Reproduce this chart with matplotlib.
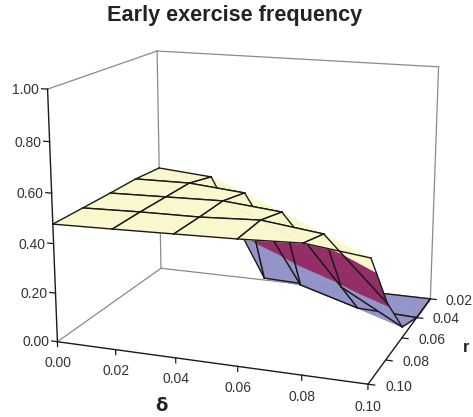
import numpy as np
import matplotlib
matplotlib.use('Agg')
import matplotlib.pyplot as plt
from mpl_toolkits.mplot3d import proj3d
from mpl_toolkits.mplot3d.art3d import Poly3DCollection

plt.rcParams['font.family'] = ['Liberation Sans', 'DejaVu Sans']

# early exercise frequency, rows are r, columns are delta
delta = [0.00, 0.02, 0.04, 0.06, 0.08, 0.10]
r = [0.02, 0.04, 0.06, 0.08, 0.10]
freq_r02 = [0.472, 0.452, 0.009, 0.00, 0.00, 0.00]
freq_r04 = [0.480, 0.483, 0.462, 0.084, 0.011, 0.00]
freq_r06 = [0.478, 0.484, 0.490, 0.467, 0.182, 0.046]
freq_r08 = [0.478, 0.485, 0.488, 0.500, 0.470, 0.227]
freq_r10 = [0.478, 0.483, 0.489, 0.495, 0.505, 0.476]
freq = np.array([freq_r02, freq_r04, freq_r06, freq_r08, freq_r10])

delta_ticks = [0.00, 0.02, 0.04, 0.06, 0.08, 0.10]
r_ticks = [0.02, 0.04, 0.06, 0.08, 0.10]
z_ticks = [0.00, 0.20, 0.40, 0.60, 0.80, 1.00]

band_edges = [(0.0, 0.2), (0.2, 0.4), (0.4, 0.6)]
band_colors = ['#9594c8', '#932f66', '#f9f8cc']

W, H = 473, 417
fig = plt.figure(figsize=(W/100, H/100), dpi=100)
ax = fig.add_axes([10.06/W, 1.62/H, 1, 1], projection='3d', computed_zorder=False)
ax.set_xlim(0, 0.10, view_margin=0)
ax.set_ylim(0.10, 0.02, view_margin=0)
ax.set_zlim(0, 1, view_margin=0)
ax.view_init(elev=14.88, azim=-69.98)
ax.set_proj_type('persp', focal_length=0.605)
ax.set_box_aspect((1.2551, 1.0047, 1), zoom=1.1024)
ax.set_axis_off()


def clip(poly, level, keep_above):
    # cut a polygon at a z level
    out = []
    for i in range(len(poly)):
        a, b = poly[i], poly[(i + 1) % len(poly)]
        a_in = a[2] >= level if keep_above else a[2] <= level
        b_in = b[2] >= level if keep_above else b[2] <= level
        if a_in:
            out.append(a)
        if a_in != b_in:
            t = (level - a[2]) / (b[2] - a[2])
            out.append(tuple(a[k] + t*(b[k] - a[k]) for k in range(3)))
    return out


def label(x, y, z, s, ha):
    # tick label at a 3d spot, as plain 2d text
    u, v, _ = proj3d.proj_transform(x, y, z, ax.get_proj())
    ax.text2D(u, v, s, transform=ax.transData, ha=ha, va='center', fontsize=10,
              color='#333333', clip_on=False)


# back walls
grey = '#8a8a8a'
xa, xb = 0.0, 0.10
ya, yb = 0.10, 0.02
back = [([xa, xa], [ya, yb], [0, 0]), ([xa, xb], [yb, yb], [0, 0]),
        ([xa, xa], [yb, yb], [0, 1]), ([xb, xb], [yb, yb], [0, 1]),
        ([xa, xb], [yb, yb], [1, 1]), ([xa, xa], [ya, yb], [1, 1])]
for xs, ys, zs in back:
    ax.plot(xs, ys, zs, color=grey, lw=0.9, zorder=1)

# surface, back to front, so nearer cells hide farther ones
order = 2
for j in range(len(r) - 1):
    for i in range(len(delta) - 1):
        p00 = (delta[i], r[j], freq[j, i])
        p10 = (delta[i+1], r[j], freq[j, i+1])
        p01 = (delta[i], r[j+1], freq[j+1, i])
        p11 = (delta[i+1], r[j+1], freq[j+1, i+1])
        for tri in ([p00, p11, p10], [p00, p01, p11]):
            for (lo, hi), col in zip(band_edges, band_colors):
                piece = clip(tri, lo, True)
                if len(piece) >= 3:
                    piece = clip(piece, hi, False)
                if len(piece) < 3:
                    continue
                pc = Poly3DCollection([piece], facecolor=col, edgecolor=col, linewidth=0.3, zorder=order)
                ax.add_collection3d(pc, autolim=False)
                order += 1
        for a, b in ((p00, p10), (p10, p11), (p11, p01), (p01, p00)):
            ax.plot([a[0], b[0]], [a[1], b[1]], [a[2], b[2]], color='#1a1a1a', lw=1.0, zorder=order)
        order += 1

# front axes
order += 1
ax.plot([xa, xa], [ya, ya], [0, 1], color='#1a1a1a', lw=1.0, zorder=order)
ax.plot([xa, xb], [ya, ya], [0, 0], color='#1a1a1a', lw=1.0, zorder=order)
ax.plot([xb, xb], [ya, yb], [0, 0], color='#1a1a1a', lw=1.0, zorder=order)

for z in z_ticks:
    ax.plot([xa, xa - 0.002], [ya, ya], [z, z], color='#1a1a1a', lw=0.9, zorder=order)
    label(xa - 0.0028, ya, z - 0.007, '%.2f' % z, 'right')
for d in delta_ticks:
    ax.plot([d, d], [ya, ya], [0, -0.02], color='#1a1a1a', lw=0.9, zorder=order)
    label(d, ya, -0.087, '%.2f' % d, 'center')
for v in r_ticks:
    ax.plot([xb, xb + 0.002], [v, v], [0, 0], color='#1a1a1a', lw=0.9, zorder=order)
    label(xb + 0.0052, v, 0, '%.2f' % v, 'left')

fig.text(235/W, 1 - 16/H, 'Early exercise frequency', ha='center', va='center',
         fontsize=15.6, fontweight='bold', color='#222222')
fig.text(161/W, 1 - 406/H, 'δ', ha='center', va='center', fontsize=13, fontweight='bold', color='#222222',
         family=['DejaVu Sans'])
fig.text(466/W, 1 - 347/H, 'r', ha='center', va='center', fontsize=12, fontweight='bold', color='#222222')

fig.savefig('out.png', dpi=100)
